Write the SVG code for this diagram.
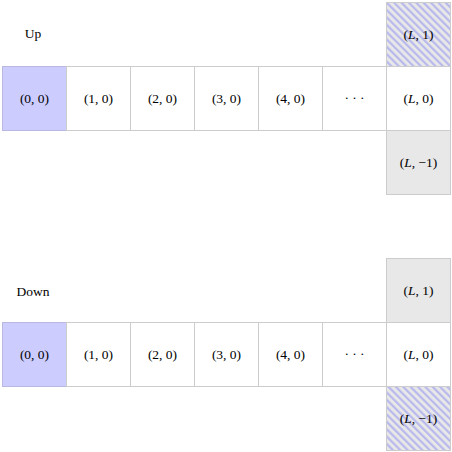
<svg xmlns="http://www.w3.org/2000/svg" width="452" height="452" viewBox="0 0 452 452">
<defs>
<pattern id="hatch" patternUnits="userSpaceOnUse" width="5.2" height="5.2" patternTransform="rotate(-45)">
<rect width="5.2" height="5.2" fill="#e8e8e8"/>
<line x1="1.2" y1="0" x2="1.2" y2="5.2" stroke="#b4b4ee" stroke-width="2"/>
</pattern>
</defs>
<style>
.c{fill:#ffffff;stroke:#cccccc;stroke-width:1}
.o{fill:#ccccff;stroke:#b8b8e0;stroke-width:1}
.g{fill:#e8e8e8;stroke:#cccccc;stroke-width:1}
.h{fill:url(#hatch);stroke:#cccccc;stroke-width:1}
text{font-family:"Liberation Serif","DejaVu Serif",serif;font-size:13.5px;fill:#000;text-anchor:middle;dominant-baseline:central}
.i{font-style:italic}
</style>
<g id="top">
<text x="33" y="33">Up</text>
<g id="t-L1"><rect class="h" x="386.5" y="2.5" width="64" height="64"/><text x="418.5" y="34">(<tspan class="i">L</tspan>, 1)</text></g>
<g id="t-00"><rect class="o" x="2.5" y="66.5" width="64" height="64"/><text x="34.5" y="98">(0, 0)</text></g>
<g id="t-10"><rect class="c" x="66.5" y="66.5" width="64" height="64"/><text x="98.5" y="98">(1, 0)</text></g>
<g id="t-20"><rect class="c" x="130.5" y="66.5" width="64" height="64"/><text x="162.5" y="98">(2, 0)</text></g>
<g id="t-30"><rect class="c" x="194.5" y="66.5" width="64" height="64"/><text x="226.5" y="98">(3, 0)</text></g>
<g id="t-40"><rect class="c" x="258.5" y="66.5" width="64" height="64"/><text x="290.5" y="98">(4, 0)</text></g>
<g id="t-dots"><rect class="c" x="322.5" y="66.5" width="64" height="64"/><text x="354.5" y="97">· · ·</text></g>
<g id="t-L0"><rect class="c" x="386.5" y="66.5" width="64" height="64"/><text x="418.5" y="98">(<tspan class="i">L</tspan>, 0)</text></g>
<g id="t-Lm1"><rect class="g" x="386.5" y="130.5" width="64" height="64"/><text x="418.5" y="162">(<tspan class="i">L</tspan>, −1)</text></g>
</g>
<g id="bottom">
<text x="33" y="291">Down</text>
<g id="b-L1"><rect class="g" x="386.5" y="258.5" width="64" height="64"/><text x="418.5" y="290">(<tspan class="i">L</tspan>, 1)</text></g>
<g id="b-00"><rect class="o" x="2.5" y="322.5" width="64" height="64"/><text x="34.5" y="354">(0, 0)</text></g>
<g id="b-10"><rect class="c" x="66.5" y="322.5" width="64" height="64"/><text x="98.5" y="354">(1, 0)</text></g>
<g id="b-20"><rect class="c" x="130.5" y="322.5" width="64" height="64"/><text x="162.5" y="354">(2, 0)</text></g>
<g id="b-30"><rect class="c" x="194.5" y="322.5" width="64" height="64"/><text x="226.5" y="354">(3, 0)</text></g>
<g id="b-40"><rect class="c" x="258.5" y="322.5" width="64" height="64"/><text x="290.5" y="354">(4, 0)</text></g>
<g id="b-dots"><rect class="c" x="322.5" y="322.5" width="64" height="64"/><text x="354.5" y="353">· · ·</text></g>
<g id="b-L0"><rect class="c" x="386.5" y="322.5" width="64" height="64"/><text x="418.5" y="354">(<tspan class="i">L</tspan>, 0)</text></g>
<g id="b-Lm1"><rect class="h" x="386.5" y="386.5" width="64" height="64"/><text x="418.5" y="418">(<tspan class="i">L</tspan>, −1)</text></g>
</g>
<g id="connectors"/>
</svg>
